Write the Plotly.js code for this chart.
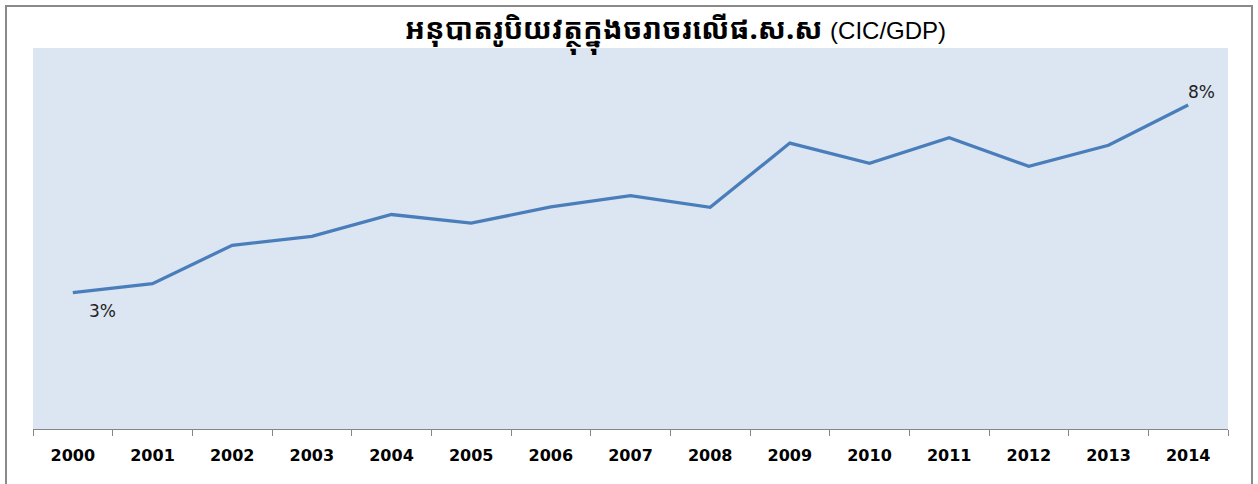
<!DOCTYPE html>
<html>
<head>
<meta charset="utf-8">
<script src="https://cdn.plot.ly/plotly-3.0.1.min.js"></script>
<style>
  body { margin: 0; background: #fff; }
  #wrap { position: relative; width: 1258px; height: 484px; overflow: hidden; }
  #frame { position: absolute; left: 5px; top: 5px; width: 1244px; height: 490px;
           border: 2px solid #8a8a8a; pointer-events: none; }
</style>
</head>
<body>
<div id="wrap">
  <div id="chart" style="width:1258px;height:484px;"></div>
  <div id="frame"></div>
</div>
<script>
// CIC / GDP ratio
var years = ["2000", "2001", "2002", "2003", "2004", "2005", "2006", "2007",
             "2008", "2009", "2010", "2011", "2012", "2013", "2014"];
var cicGdp = [0.0320, 0.0344, 0.0446, 0.0470, 0.0528, 0.0505, 0.0548, 0.0578,
              0.0547, 0.0718, 0.0664, 0.0732, 0.0656, 0.0712, 0.0819];
var titleText = "<b>អនុបាតរូបិយវត្ថុក្នុងចរាចរលើផ.ស.ស</b> <span style='font-family:Liberation Sans, Arial;font-size:24px'>(CIC/GDP)</span>";

var trace = {
  x: years,
  y: cicGdp,
  type: 'scatter',
  mode: 'lines',
  line: {color: '#4A7EBB', width: 3.3},
  hoverinfo: 'skip'
};

// only the first and last point carry a label (x given as category index)
var first = 0, last = years.length - 1;
var annos = [
  {x: first, y: cicGdp[first], text: (cicGdp[first] * 100).toFixed(0) + '%',
   xshift: 30, yshift: -18},
  {x: last, y: cicGdp[last], text: (cicGdp[last] * 100).toFixed(0) + '%',
   xshift: 13, yshift: 13}
].map(function (a) {
  a.xref = 'x'; a.yref = 'y'; a.showarrow = false;
  a.font = {family: 'DejaVu Sans, Verdana, sans-serif', size: 17, color: '#222'};
  return a;
});

var layout = {
  width: 1258,
  height: 484,
  margin: {l: 33, r: 30, t: 48, b: 55},
  paper_bgcolor: '#ffffff',
  plot_bgcolor: '#DCE6F2',
  showlegend: false,
  title: {
    text: titleText,
    font: {family: 'Noto Sans Khmer, Khmer OS, Noto Sans, DejaVu Sans, sans-serif', size: 29, color: '#000'},
    xref: 'container', x: 0.537, xanchor: 'center',
    yref: 'container', y: 0.94, yanchor: 'middle'
  },
  xaxis: {
    type: 'category',
    tickson: 'boundaries',
    ticks: 'outside',
    ticklen: 6,
    tickcolor: '#868686',
    showline: true,
    linecolor: '#868686',
    linewidth: 1,
    showgrid: false,
    zeroline: false,
    ticklabelstandoff: 12,
    tickfont: {family: 'DejaVu Sans, Verdana, sans-serif', size: 16, color: '#000', weight: 'bold'},
    range: [-0.5, years.length - 0.5]
  },
  yaxis: {
    range: [-0.00425, 0.09708],
    visible: false,
    showgrid: false,
    zeroline: false
  },
  annotations: annos
};

Plotly.newPlot('chart', [trace], layout, {staticPlot: true});
</script>
</body>
</html>
